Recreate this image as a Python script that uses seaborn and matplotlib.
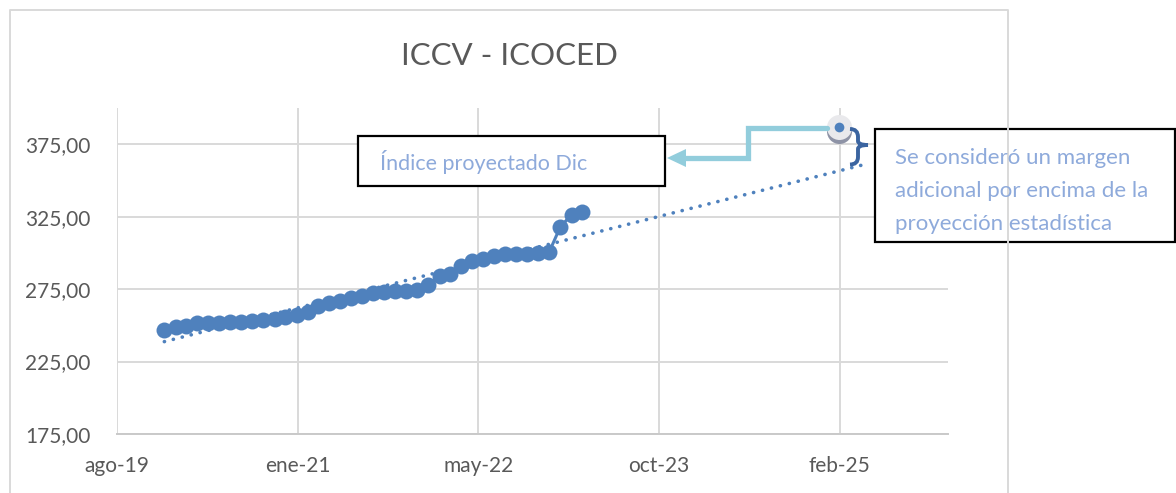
import numpy as np
import pandas as pd
import matplotlib
matplotlib.use("Agg")
import matplotlib.pyplot as plt
import matplotlib.dates as mdates
import matplotlib.transforms as mtransforms
from matplotlib.path import Path
from matplotlib.patches import PathPatch, Rectangle, Polygon
import seaborn as sns

# Monthly index values (ICCV - ICOCED), Jan 2020 .. Mar 2023
months = pd.date_range("2020-01-01", periods=39, freq="MS")
index_values = [247.0, 248.8, 249.7, 251.6, 251.6, 251.6, 252.0, 252.3, 252.7, 253.4,
                254.4, 255.5, 257.4, 258.9, 263.1, 265.4, 266.6, 268.9, 270.5, 272.4,
                272.8, 273.5, 273.5, 274.7, 278.1, 283.9, 285.7, 290.8, 294.2, 296.1,
                297.7, 298.9, 298.9, 298.9, 299.6, 300.5, 318.0, 326.3, 328.1]

# Projected point
proj_date = pd.Timestamp("2025-02-10")
proj_value = 387.0

# Trendline forecast end
trend_end = pd.Timestamp("2025-05-05")

x_tick_dates = pd.to_datetime(["2019-08-23", "2021-01-04", "2022-05-19", "2023-10-01", "2025-02-12"])
x_tick_labels = ["ago-19", "ene-21", "may-22", "oct-23", "feb-25"]
y_ticks = [175, 225, 275, 325, 375]
y_tick_labels = ["175,00", "225,00", "275,00", "325,00", "375,00"]

title = "ICCV - ICOCED"
box_left_text = "Índice proyectado Dic"
box_right_text = "Se consideró un margen\nadicional por encima de la\nproyección estadística"

blue = "#4F81BD"
grid_col = "#D9D9D9"
txt_col = "#595959"
note_col = "#8EAADB"

sns.set_style("white")
plt.rcParams["font.family"] = ["Lato", "DejaVu Sans"]

fig = plt.figure(figsize=(11.76, 4.93), dpi=100)
ax = fig.add_axes([117 / 1176, 59 / 493, 831 / 1176, 326 / 493])

df = pd.DataFrame({"fecha": months, "indice": index_values})

# linear trend (like Excel's trendline with forward forecast)
xn = mdates.date2num(df["fecha"])
slope, intercept = np.polyfit(xn, df["indice"], 1)
tx = np.array([xn[0], mdates.date2num(trend_end)])
ax.plot(mdates.num2date(tx), slope * tx + intercept, color=blue, lw=2.6,
        linestyle=(0, (0.05, 2.5)), dash_capstyle="round", zorder=2)

sns.lineplot(data=df, x="fecha", y="indice", ax=ax, color=blue, lw=2.2,
             marker="o", markersize=11.5, markeredgewidth=0, zorder=3)

# projected point with grey halo and shadow
shadow = mtransforms.offset_copy(ax.transData, fig=fig, x=0, y=-4, units="dots")
ax.plot([proj_date], [proj_value], "o", ms=18, color="#8E93A6", mew=0,
        transform=shadow, zorder=4, clip_on=False)
ax.plot([proj_date], [proj_value], "o", ms=18, color="#E9E9EC", mew=0, zorder=5, clip_on=False)
ax.plot([proj_date], [proj_value], "o", ms=7, color=blue, mew=0, zorder=6, clip_on=False)

ax.set_xlim(pd.Timestamp("2019-08-23"), pd.Timestamp("2025-12-09"))
ax.set_ylim(175, 400)
ax.set_xticks(x_tick_dates)
ax.set_xticklabels(x_tick_labels)
ax.set_yticks(y_ticks)
ax.set_yticklabels(y_tick_labels)
ax.tick_params(axis="both", length=0, labelsize=15, labelcolor=txt_col)
ax.tick_params(axis="y", pad=19)
ax.tick_params(axis="x", pad=16)
ax.grid(True, color=grid_col, lw=1.4)
ax.set_axisbelow(True)
ax.set_xlabel("")
ax.set_ylabel("")
for s in ["top", "right", "left"]:
    ax.spines[s].set_visible(False)
ax.spines["bottom"].set_color("#C9C9C9")
ax.spines["bottom"].set_linewidth(1.4)

# overlay in pixel coordinates for the chart frame and callouts
ov = fig.add_axes([0, 0, 1, 1], zorder=10)
ov.set_xlim(0, 1176)
ov.set_ylim(493, 0)
ov.axis("off")
ov.patch.set_alpha(0)

ov.plot([10, 10, 1008, 1008], [500, 10, 10, 500], color=grid_col, lw=1.4)
ov.text(509, 56, title, ha="center", va="center", fontsize=22.5, color=txt_col)

# arrow from projected point to left box
arrow_col = "#92CDDC"
ov.plot([827, 748, 748, 684], [128, 128, 158, 158], color=arrow_col, lw=3.8,
        solid_joinstyle="miter")
ov.add_patch(Polygon([[667, 158], [686, 149], [686, 167]], closed=True,
                     color=arrow_col, lw=0))

# brace
verts = [(850, 129), (858, 129), (858, 137), (858, 141), (858, 145), (868, 145),
         (858, 145), (858, 149), (858, 157), (858, 164.5), (850, 164.5)]
codes = [Path.MOVETO, Path.CURVE3, Path.CURVE3, Path.LINETO, Path.CURVE3, Path.CURVE3,
         Path.CURVE3, Path.CURVE3, Path.LINETO, Path.CURVE3, Path.CURVE3]
ov.add_patch(PathPatch(Path(verts, codes), fill=False, edgecolor="#3B64A0", lw=2.8))

# text boxes
ov.add_patch(Rectangle((358, 136), 307, 50, facecolor="white", edgecolor="black", lw=1.6))
ov.text(380, 162, box_left_text, ha="left", va="center", fontsize=15.5, color=note_col)

ov.add_patch(Rectangle((875, 129), 300, 113, facecolor="white", edgecolor="black", lw=1.6))
ov.text(895, 191, box_right_text, ha="left", va="center", fontsize=16, color=note_col,
        linespacing=1.8)

plt.savefig("out.png", dpi=100)
